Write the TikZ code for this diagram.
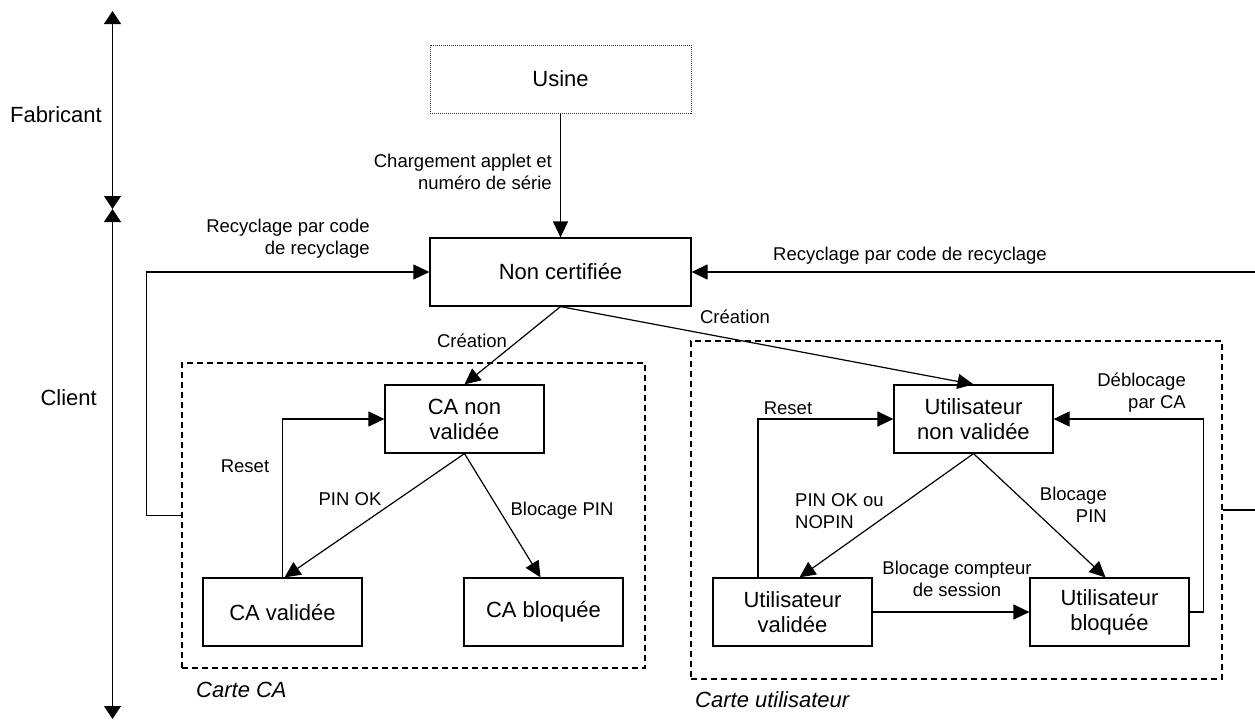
\documentclass[tikz,border=0pt]{standalone}
\usepackage{fontspec}
\setmainfont{Liberation Sans}
\usetikzlibrary{arrows.meta}
\begin{document}
\begin{tikzpicture}[x=1pt,y=-1pt,
  state/.style={draw, line width=1.2pt, rectangle, inner sep=0pt, minimum width=159pt, minimum height=68pt, align=center, font=\fontsize{22}{25}\selectfont},
  bigstate/.style={state, minimum width=261pt},
  card/.style={draw, line width=1.8pt, dash pattern=on 6pt off 4pt, inner sep=0pt},
  lab/.style={inner sep=0pt, font=\fontsize{18.5}{22}\selectfont},
  side/.style={inner sep=0pt, font=\fontsize{22}{25}\selectfont},
  captiontext/.style={inner sep=0pt, anchor=west, font=\fontsize{22}{25}\selectfont\itshape},
  conn/.style={line width=1.2pt, -{Triangle[length=16pt,width=15pt]}},
  axisline/.style={line width=1.3pt, {Triangle[length=13pt,width=17pt]}-{Triangle[length=13pt,width=17pt]}}
]
\useasboundingbox (0,0) rectangle (1255,720);

% axis
\coordinate (atop) at (112.5,11);
\coordinate (amid) at (112.5,209);
\coordinate (abot) at (112.5,719);
\draw[axisline] (amid) -- (atop);
\draw[axisline] (amid) -- (abot);
\node[side, anchor=east] (fab) at (102,115) {Fabricant};
\node[side, anchor=east] (cli) at (97,398) {Client};

% cards
\node[card, minimum width=463pt, minimum height=305pt] (cacard) at (413.5,515.5) {};
\node[card, minimum width=531pt, minimum height=338pt] (ucard) at (956.5,510) {};
\node[captiontext] (capca) at (196,690) {Carte CA};
\node[captiontext] (capu) at (695,700) {Carte utilisateur};

% states
\node[bigstate, draw=black!80, dash pattern=on 1pt off 1pt, line width=1pt] (usine) at (560.5,79) {Usine};
\node[bigstate] (nc) at (560.5,272) {Non certifiée};
\node[state] (canv) at (464.5,419) {CA non\\validée};
\node[state] (cav) at (282.5,612) {CA validée};
\node[state] (cab) at (543.5,612) {CA bloquée};
\node[state] (unv) at (973.5,419) {Utilisateur\\non validée};
\node[state] (uv) at (792.5,612) {Utilisateur\\validée};
\node[state] (ub) at (1109.5,612) {Utilisateur\\bloquée};

% connectors
\draw[conn] (usine.south) -- (nc.north);
\node[lab, anchor=east, align=right] (lchg) at (552,171.5) {Chargement applet et\\numéro de série};

\draw[conn] (cacard.west) -- ++(-35,0) |- (nc.west);
\node[lab, anchor=east, align=right] (lrec1) at (370,239) {Recyclage par code\\de recyclage};

\coordinate (rr) at (1255,272);
\draw[conn] (rr) -- (nc.east);
\node[lab] (lrec2) at (910,256) {Recyclage par code de recyclage};

\coordinate (ur) at (1255,510);
\draw[line width=1.2pt] (ucard.east) -- (ur);

\draw[conn] (nc.south) -- (canv.north);
\node[lab] (lcr1) at (472,341) {Création};
\draw[conn] (nc.south) -- (unv.north);
\node[lab] (lcr2) at (735,317) {Création};

% CA card
\draw[conn] (cav.north) |- (canv.west);
\node[lab] (lres1) at (245,466) {Reset};
\draw[conn] (canv.south) -- ([xshift=2pt]cav.north);
\node[lab] (lpin1) at (350,499) {PIN OK};
\draw[conn] (canv.south) -- ([xshift=-3pt]cab.north);
\node[lab] (lblk1) at (562,511) {Blocage PIN};

% user card
\draw[conn] ([xshift=-34.5pt]uv.north) |- (unv.west);
\node[lab] (lres2) at (788,408) {Reset};
\draw[conn] (unv.south) -- ([xshift=7pt]uv.north);
\node[lab, anchor=west, align=left] (lpin2) at (795,511) {PIN OK ou\\NOPIN};
\draw[conn] (unv.south) -- ([xshift=-4pt]ub.north);
\node[lab, anchor=east, align=right] (lblk2) at (1107,504.5) {Blocage\\PIN};
\draw[conn] (uv.east) -- (ub.west);
\node[lab, align=center] (lcpt) at (957,579) {Blocage compteur\\de session};
\draw[conn] (ub.east) -- ++(14,0) |- (unv.east);
\node[lab, anchor=east, align=right] (ldeb) at (1186,392.5) {Déblocage\\par CA};
\end{tikzpicture}
\end{document}
